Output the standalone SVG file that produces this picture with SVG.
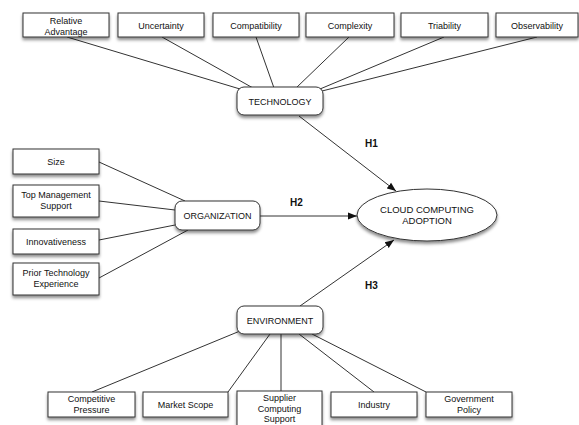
<svg xmlns="http://www.w3.org/2000/svg" width="579" height="425" viewBox="0 0 579 425">
<defs>
<filter id="sh" x="-20%" y="-30%" width="140%" height="180%">
<feDropShadow dx="0" dy="2.5" stdDeviation="1.8" flood-color="#000" flood-opacity="0.45"/>
</filter>
<marker id="ar" viewBox="0 0 10 10" refX="10" refY="5" markerWidth="9" markerHeight="9" markerUnits="userSpaceOnUse" orient="auto">
<path d="M0,1 L10,5 L0,9 Z" fill="#111"/>
</marker>
<style>
.b{fill:#fff;stroke:#333;stroke-width:1;filter:url(#sh)}
.t{font-family:"Liberation Sans",Arial,sans-serif;font-size:9px;fill:#111;text-anchor:middle}
.h{font-family:"Liberation Sans",Arial,sans-serif;font-size:10px;font-weight:bold;fill:#111}
.c line{stroke:#333;stroke-width:1}
.a{marker-end:url(#ar)}
</style>
</defs>
<rect width="579" height="425" fill="#fff"/>
<g class="c" id="connectors">
<line x1="67" y1="37" x2="240" y2="89"/>
<line x1="162" y1="37" x2="253" y2="88"/>
<line x1="256" y1="37" x2="274" y2="88"/>
<line x1="349" y1="37" x2="296" y2="88"/>
<line x1="444" y1="37" x2="320" y2="89"/>
<line x1="537" y1="37" x2="322" y2="91"/>
<line x1="99" y1="162" x2="185" y2="201"/>
<line x1="99" y1="201" x2="175" y2="210"/>
<line x1="99" y1="240" x2="175" y2="225"/>
<line x1="99" y1="278" x2="188" y2="230"/>
<line x1="92" y1="392" x2="240" y2="331"/>
<line x1="228" y1="392" x2="270" y2="334"/>
<line x1="281" y1="334" x2="281" y2="391"/>
<line x1="374" y1="392" x2="299" y2="334"/>
<line x1="426" y1="392" x2="312" y2="334"/>
<line class="a" x1="299" y1="116" x2="396" y2="191"/>
<line class="a" x1="260" y1="216" x2="357" y2="216"/>
<line class="a" x1="300" y1="306" x2="394" y2="240"/>
</g>
<g id="relative-advantage"><rect class="b" x="23" y="13" width="86" height="24"/><text class="t" x="66" y="24">Relative</text><text class="t" x="66" y="34.5">Advantage</text></g>
<g id="uncertainty"><rect class="b" x="118" y="13" width="86" height="24"/><text class="t" x="161" y="29">Uncertainty</text></g>
<g id="compatibility"><rect class="b" x="213" y="13" width="86" height="24"/><text class="t" x="256" y="29">Compatibility</text></g>
<g id="complexity"><rect class="b" x="306" y="13" width="88" height="24"/><text class="t" x="350" y="29">Complexity</text></g>
<g id="triability"><rect class="b" x="401" y="13" width="87" height="24"/><text class="t" x="444.5" y="29">Triability</text></g>
<g id="observability"><rect class="b" x="496" y="13" width="82" height="24"/><text class="t" x="537" y="29">Observability</text></g>
<g id="technology"><rect class="b" x="237" y="87" width="86" height="28" rx="7"/><text class="t" x="280" y="104.5">TECHNOLOGY</text></g>
<g id="size"><rect class="b" x="13" y="149" width="86" height="25"/><text class="t" x="56" y="164.5">Size</text></g>
<g id="top-management-support"><rect class="b" x="13" y="185" width="86" height="32"/><text class="t" x="56" y="198">Top Management</text><text class="t" x="56" y="208.5">Support</text></g>
<g id="innovativeness"><rect class="b" x="13" y="229" width="86" height="25"/><text class="t" x="56" y="244.5">Innovativeness</text></g>
<g id="prior-technology-experience"><rect class="b" x="13" y="263" width="86" height="32"/><text class="t" x="56" y="276">Prior Technology</text><text class="t" x="56" y="286.5">Experience</text></g>
<g id="organization"><rect class="b" x="175" y="201" width="85" height="29" rx="7"/><text class="t" x="217.5" y="218.5">ORGANIZATION</text></g>
<g id="cloud-computing-adoption"><ellipse class="b" cx="427" cy="215" rx="70" ry="26"/><text class="t" x="427" y="213" style="font-size:9.5px">CLOUD COMPUTING</text><text class="t" x="427" y="224" style="font-size:9.5px">ADOPTION</text></g>
<g id="environment"><rect class="b" x="237" y="306" width="86" height="28" rx="7"/><text class="t" x="280" y="323.5">ENVIRONMENT</text></g>
<g id="competitive-pressure"><rect class="b" x="48" y="392" width="87" height="25"/><text class="t" x="91.5" y="402">Competitive</text><text class="t" x="91.5" y="413">Pressure</text></g>
<g id="market-scope"><rect class="b" x="143" y="392" width="85" height="25"/><text class="t" x="185.5" y="407.5">Market Scope</text></g>
<g id="supplier-computing-support"><rect class="b" x="237" y="391" width="85" height="40"/><text class="t" x="279.5" y="401">Supplier</text><text class="t" x="279.5" y="411.5">Computing</text><text class="t" x="279.5" y="422">Support</text></g>
<g id="industry"><rect class="b" x="331" y="392" width="86" height="25"/><text class="t" x="374" y="407.5">Industry</text></g>
<g id="government-policy"><rect class="b" x="426" y="392" width="86" height="25"/><text class="t" x="469" y="402">Government</text><text class="t" x="469" y="413">Policy</text></g>
<g id="labels">
<text class="h" x="365" y="147">H1</text>
<text class="h" x="290" y="206">H2</text>
<text class="h" x="365" y="289">H3</text>
</g>
</svg>
